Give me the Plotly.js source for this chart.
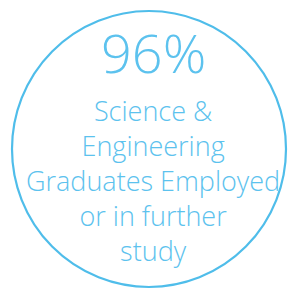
<!DOCTYPE html>
<html>
<head>
<meta charset="utf-8">
<script src="https://cdn.plot.ly/plotly-3.0.1.min.js"></script>
<style>
html,body{margin:0;padding:0;background:#fff;}
#chart{width:298px;height:289px;}
</style>
</head>
<body>
<div id="chart"></div>
<script>
// Data
var statValue = 96;
var statSuffix = "%";
var labelLines = ["Science &", "Engineering", "Graduates Employed", "or in further", "study"];

// Styles
var circleColor = "#4fbdea";
var textColor = "#5cc2ee";
var fontFamily = "Open Sans, Noto Sans, sans-serif";

var annotations = [];
annotations.push({
  x: 153, y: 52, xref: "x", yref: "y",
  text: statValue + statSuffix,
  showarrow: false, xanchor: "center", yanchor: "middle",
  font: {family: fontFamily, size: 54, color: textColor, weight: 300}
});
annotations.push({
  x: 153, y: 180, xref: "x", yref: "y",
  text: labelLines.join("<br>"),
  showarrow: false, xanchor: "center", yanchor: "middle", align: "center",
  borderpad: 0,
  font: {family: fontFamily, size: 27, color: textColor, weight: 300}
});

var layout = {
  width: 298, height: 289,
  margin: {l: 0, r: 0, t: 0, b: 0},
  paper_bgcolor: "#ffffff", plot_bgcolor: "#ffffff",
  showlegend: false,
  xaxis: {range: [0, 298], visible: false, fixedrange: true},
  yaxis: {range: [289, 0], visible: false, fixedrange: true},
  shapes: [{
    type: "circle", xref: "x", yref: "y",
    x0: 12, x1: 286, y0: 11, y1: 287,
    line: {color: circleColor, width: 2.2}
  }],
  annotations: annotations
};

Plotly.newPlot("chart", [], layout, {displayModeBar: false, staticPlot: true});
</script>
</body>
</html>
